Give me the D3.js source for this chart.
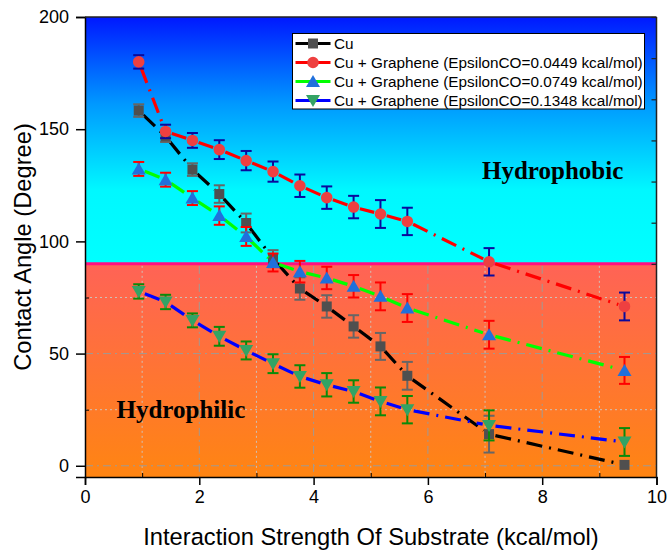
<!DOCTYPE html>
<html>
<head>
<meta charset="utf-8">
<script src="https://cdn.jsdelivr.net/npm/d3@7"></script>
<style>
  body { margin: 0; background: #fff; }
  text { font-family: "Liberation Sans", Arial, sans-serif; }
</style>
</head>
<body>
<div id="chart-container"></div>
<script>
// contact angle vs substrate interaction strength

// data
const xVals = [0.94, 1.41, 1.88, 2.35, 2.82, 3.29, 3.76, 4.23, 4.70, 5.17, 5.64, 7.07, 9.44];
const cuY = [158.3, 146.8, 132.0, 121.1, 108.2, 92.3, 79.0, 71.0, 62.1, 53.2, 40.1, 14.1, 0.4];
const cuErr = [2.8, 2.5, 2.8, 3.9, 4.2, 3.8, 5.0, 5.0, 5.0, 6.0, 6.2, 8.2, 0];
const eps0449Y = [180.0, 149.0, 145.0, 140.9, 136.0, 131.1, 124.8, 119.5, 115.3, 112.2, 108.9, 90.9, 71.0];
const eps0449Err = [3.0, 3.0, 3.3, 4.2, 4.3, 4.5, 5.0, 5.0, 5.0, 6.2, 6.1, 6.1, 6.2];
const eps0749Y = [132.3, 127.5, 119.3, 111.5, 102.2, 90.6, 86.5, 83.7, 80.0, 75.5, 70.3, 58.4, 42.5];
const eps0749Err = [3.1, 3.1, 3.1, 4.1, 4.2, 4.0, 4.8, 5.0, 5.0, 6.2, 6.2, 6.2, 6.0];
const eps1348Y = [77.7, 73.0, 64.8, 57.7, 51.4, 45.5, 39.8, 36.1, 33.1, 28.7, 25.0, 18.0, 10.6];
const eps1348Err = [3.2, 3.2, 3.1, 4.2, 4.0, 4.2, 5.0, 5.2, 5.0, 6.2, 6.1, 6.7, 6.2];

const seriesNames = [
  'Cu',
  'Cu + Graphene (EpsilonCO=0.0449 kcal/mol)',
  'Cu + Graphene (EpsilonCO=0.0749 kcal/mol)',
  'Cu + Graphene (EpsilonCO=0.1348 kcal/mol)'
];

const xTicks = [0, 2, 4, 6, 8, 10];
const xMinorTicks = [1, 3, 5, 7, 9];
const yTicks = [0, 50, 100, 150, 200];
const yMinorTicks = [25, 75];
const threshold = 90;

// styles per series
const styles = [
  { line: '#000000', marker: 'square', fill: '#4f4f4f', err: '#666666' },
  { line: '#ff0000', marker: 'circle', fill: '#ee4040', err: '#0a0a9c' },
  { line: '#00ff00', marker: 'triangle', fill: '#2070dc', err: '#ff0000' },
  { line: '#0000ff', marker: 'down', fill: '#33a365', err: '#0a8a0a' }
];
const seriesY = [cuY, eps0449Y, eps0749Y, eps1348Y];
const seriesErr = [cuErr, eps0449Err, eps0749Err, eps1348Err];

const svgWidth = 667;
const svgHeight = 552;
const margin = { top: 17, right: 10.5, bottom: 75, left: 85 };
const width = svgWidth - margin.left - margin.right;
const height = svgHeight - margin.top - margin.bottom;

const svg = d3.select('#chart-container')
  .append('svg')
  .attr('width', svgWidth)
  .attr('height', svgHeight);

const defs = svg.append('defs');
const gTop = defs.append('linearGradient').attr('id', 'phobic')
  .attr('x1', 0).attr('y1', 0).attr('x2', 0).attr('y2', 1);
gTop.append('stop').attr('offset', '0%').attr('stop-color', '#0018ff');
gTop.append('stop').attr('offset', '35%').attr('stop-color', '#0098ff');
gTop.append('stop').attr('offset', '70%').attr('stop-color', '#00f8ff');
gTop.append('stop').attr('offset', '100%').attr('stop-color', '#00ffff');
const gBot = defs.append('linearGradient').attr('id', 'philic')
  .attr('x1', 0).attr('y1', 0).attr('x2', 0).attr('y2', 1);
gBot.append('stop').attr('offset', '0%').attr('stop-color', '#ff6356');
gBot.append('stop').attr('offset', '100%').attr('stop-color', '#ff8512');

const chart = svg.append('g')
  .attr('transform', `translate(${margin.left},${margin.top})`);

const xScale = d3.scaleLinear().domain([0, 10]).range([0, width]);
const yScale = d3.scaleLinear().domain([-5, 200]).range([height, 0]);

// background regions
chart.append('rect')
  .attr('x', 0).attr('y', 0)
  .attr('width', width).attr('height', yScale(threshold))
  .attr('fill', 'url(#phobic)');
chart.append('rect')
  .attr('x', 0).attr('y', yScale(threshold))
  .attr('width', width).attr('height', height - yScale(threshold))
  .attr('fill', 'url(#philic)');

// grid, only seen in the lower region
const grid = chart.append('g');
xTicks.concat(xMinorTicks).filter(d => d > 0 && d < 10).forEach(d => {
  const major = xTicks.includes(d);
  grid.append('line')
    .attr('x1', xScale(d)).attr('x2', xScale(d))
    .attr('y1', yScale(threshold) + 2).attr('y2', height)
    .attr('stroke', major ? '#a09a94' : '#d0c0b8')
    .attr('stroke-width', 1)
    .attr('stroke-dasharray', major ? '8 4 2 4' : '2 3');
});
yTicks.concat(yMinorTicks).filter(d => d < threshold).forEach(d => {
  const major = yTicks.includes(d);
  grid.append('line')
    .attr('x1', 0).attr('x2', width)
    .attr('y1', yScale(d)).attr('y2', yScale(d))
    .attr('stroke', major ? '#a09a94' : '#d0c0b8')
    .attr('stroke-width', 1)
    .attr('stroke-dasharray', major ? '8 4 2 4' : '2 3');
});

// 90 degree divider
chart.append('line')
  .attr('x1', 0).attr('x2', width)
  .attr('y1', yScale(threshold)).attr('y2', yScale(threshold))
  .attr('stroke', '#ff1080')
  .attr('stroke-width', 3);

// axes
const xAxis = chart.append('g')
  .attr('transform', `translate(0,${height})`)
  .call(d3.axisBottom(xScale).tickValues(xTicks).tickSize(8).tickPadding(5).tickFormat(d3.format('d')));
chart.append('g')
  .attr('transform', `translate(0,${height})`)
  .call(d3.axisBottom(xScale).tickValues(xMinorTicks).tickSize(-4).tickFormat(''))
  .call(g => g.select('.domain').remove());
const yAxis = chart.append('g')
  .call(d3.axisLeft(yScale).tickValues(yTicks).tickSize(9).tickPadding(7));
chart.append('g')
  .call(d3.axisLeft(yScale).tickValues(yMinorTicks).tickSize(-4).tickFormat(''))
  .call(g => g.select('.domain').remove());

[xAxis, yAxis].forEach(a => {
  a.selectAll('.domain').attr('stroke', '#000').attr('stroke-width', 1.5);
  a.selectAll('.tick line').attr('stroke', '#000').attr('stroke-width', 1.5);
  a.selectAll('.tick text').style('font-size', '18px').attr('fill', '#000');
});

// frame: top and right
chart.append('line')
  .attr('x1', 0).attr('x2', width).attr('y1', 0).attr('y2', 0)
  .attr('stroke', '#222').attr('stroke-width', 1.5);
const rightScale = d3.scaleLinear().domain([0, 6]).range([yScale(threshold), 0]);
chart.append('g')
  .attr('transform', `translate(${width},0)`)
  .call(d3.axisRight(rightScale).ticks(6).tickSize(-5).tickFormat(''))
  .call(g => g.select('.domain').remove())
  .selectAll('.tick line').attr('stroke', '#222').attr('stroke-width', 1.2);
chart.append('line')
  .attr('x1', width).attr('x2', width).attr('y1', 0).attr('y2', height)
  .attr('stroke', '#222').attr('stroke-width', 1.5);

// marker path helper
function markerPath(type) {
  if (type === 'square') return 'M-5,-5H5V5H-5Z';
  if (type === 'circle') return d3.symbol(d3.symbolCircle, 105)();
  if (type === 'triangle') return 'M0,-6.5L7,5.5L-7,5.5Z';
  return 'M0,6.5L7,-5.5L-7,-5.5Z';
}

// series
seriesY.forEach((ys, s) => {
  const st = styles[s];
  const errs = seriesErr[s];
  const g = chart.append('g');
  const pts = xVals.map((x, i) => ({ x: x, y: ys[i], e: errs[i] }));

  // dash-dot segments, restarting between each pair of points
  const segs = d3.pairs(pts);
  g.selectAll('line.seg')
    .data(segs)
    .enter()
    .append('line')
    .attr('class', 'seg')
    .each(function (d) {
      const x1 = xScale(d[0].x), y1 = yScale(d[0].y);
      const x2 = xScale(d[1].x), y2 = yScale(d[1].y);
      const len = Math.hypot(x2 - x1, y2 - y1);
      const gap = 6.5;
      const ux = (x2 - x1) / len, uy = (y2 - y1) / len;
      d3.select(this)
        .attr('x1', x1 + ux * gap).attr('y1', y1 + uy * gap)
        .attr('x2', x2 - ux * gap).attr('y2', y2 - uy * gap);
    })
    .attr('stroke', st.line)
    .attr('stroke-width', 3.2)
    .attr('stroke-dasharray', '16 7 2 7');

  // error bars
  const eb = g.selectAll('g.err')
    .data(pts.filter(d => d.e > 0))
    .enter()
    .append('g')
    .attr('class', 'err')
    .attr('stroke', st.err)
    .attr('stroke-width', 2);
  eb.append('line')
    .attr('x1', d => xScale(d.x)).attr('x2', d => xScale(d.x))
    .attr('y1', d => yScale(d.y + d.e)).attr('y2', d => yScale(d.y - d.e));
  eb.append('line')
    .attr('x1', d => xScale(d.x) - 5.5).attr('x2', d => xScale(d.x) + 5.5)
    .attr('y1', d => yScale(d.y + d.e)).attr('y2', d => yScale(d.y + d.e));
  eb.append('line')
    .attr('x1', d => xScale(d.x) - 5.5).attr('x2', d => xScale(d.x) + 5.5)
    .attr('y1', d => yScale(d.y - d.e)).attr('y2', d => yScale(d.y - d.e));

  // markers
  g.selectAll('path.mk')
    .data(pts)
    .enter()
    .append('path')
    .attr('class', 'mk')
    .attr('d', markerPath(st.marker))
    .attr('transform', d => `translate(${xScale(d.x)},${yScale(d.y)})`)
    .attr('fill', st.fill);
});

// region labels
chart.append('text')
  .attr('x', 397).attr('y', 162)
  .style('font-family', '"Liberation Serif", "Times New Roman", serif')
  .style('font-weight', 'bold')
  .style('font-size', '25px')
  .text('Hydrophobic');
chart.append('text')
  .attr('x', 31.5).attr('y', 401)
  .style('font-family', '"Liberation Serif", "Times New Roman", serif')
  .style('font-weight', 'bold')
  .style('font-size', '25px')
  .text('Hydrophilic');

// legend
const legend = svg.append('g').attr('transform', 'translate(292.5,33.5)');
legend.append('rect')
  .attr('width', 352).attr('height', 75.5)
  .attr('fill', '#fff').attr('stroke', '#000').attr('stroke-width', 1);
seriesNames.forEach((name, i) => {
  const row = legend.append('g').attr('transform', `translate(0,${10 + i * 19})`);
  row.append('line')
    .attr('x1', 3).attr('x2', 38).attr('y1', 0).attr('y2', 0)
    .attr('stroke', styles[i].line).attr('stroke-width', 3);
  row.append('path')
    .attr('d', markerPath(styles[i].marker))
    .attr('transform', 'translate(20.5,0)')
    .attr('fill', styles[i].fill);
  row.append('text')
    .attr('x', 41.5).attr('y', 5.5)
    .style('font-size', '15.3px')
    .text(name);
});

// axis titles
svg.append('text')
  .attr('x', 371).attr('y', 545)
  .attr('text-anchor', 'middle')
  .style('font-size', '23.7px')
  .text('Interaction Strength Of Substrate (kcal/mol)');
svg.append('text')
  .attr('transform', 'translate(31,247) rotate(-90)')
  .attr('text-anchor', 'middle')
  .style('font-size', '23.7px')
  .text('Contact Angle (Degree)');
</script>
</body>
</html>
